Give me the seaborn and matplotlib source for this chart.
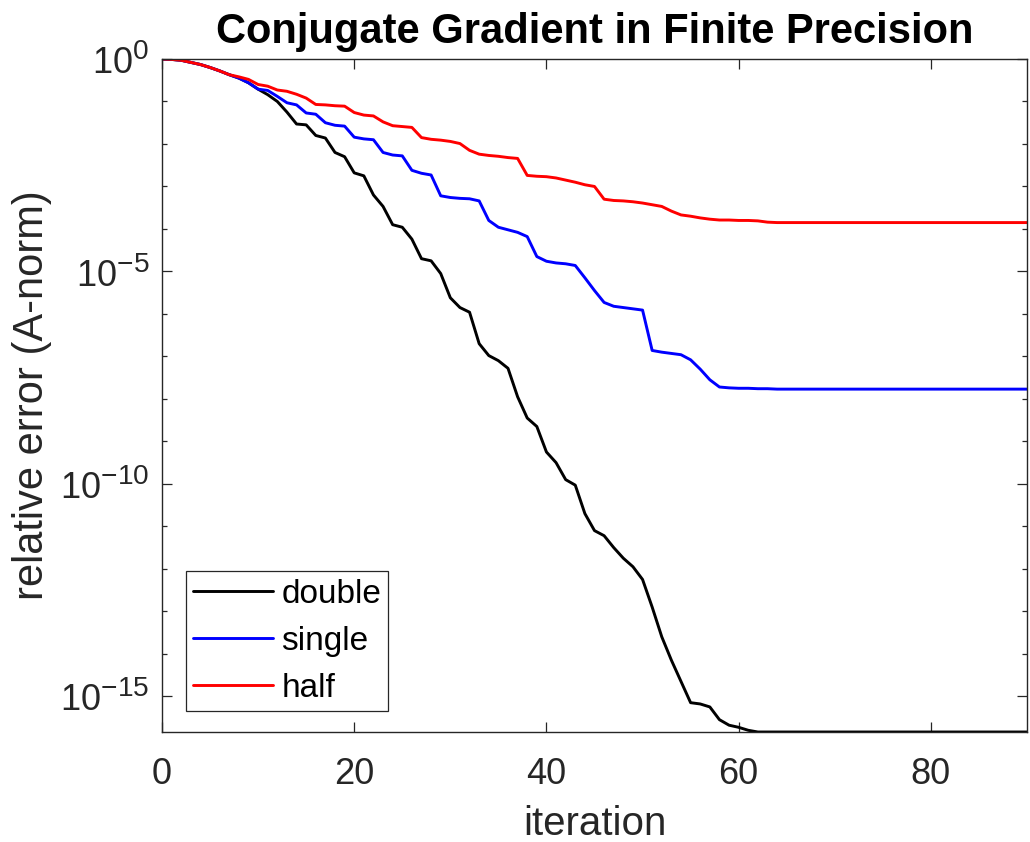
import matplotlib
matplotlib.use("Agg")
import matplotlib.pyplot as plt
import matplotlib.ticker as mticker
import numpy as np
import pandas as pd
import seaborn as sns

# log10 of the relative A-norm error, one value per iteration
iterations = list(range(91))

double_exp = [
    0.00, -0.01, -0.03, -0.08, -0.13, -0.20, -0.28, -0.37, -0.45, -0.56,
    -0.71, -0.84, -1.00, -1.25, -1.53, -1.55, -1.80, -1.86, -2.20, -2.30,
    -2.68, -2.75, -3.20, -3.47, -3.90, -3.96, -4.24, -4.70, -4.75, -5.05,
    -5.62, -5.85, -5.96, -6.70, -6.98, -7.10, -7.28, -7.95, -8.45, -8.65,
    -9.25, -9.50, -9.90, -10.03, -10.70, -11.10, -11.22, -11.50, -11.75, -11.95,
    -12.25, -12.90, -13.60, -14.15, -14.65, -15.15, -15.18, -15.25, -15.55, -15.68,
    -15.73, -15.80, -15.84, -15.84, -15.84, -15.84, -15.84, -15.84, -15.84, -15.84,
    -15.84, -15.84, -15.84, -15.84, -15.84, -15.84, -15.84, -15.84, -15.84, -15.84,
    -15.84, -15.84, -15.84, -15.84, -15.84, -15.84, -15.84, -15.84, -15.84, -15.84,
    -15.84,
]

single_exp = [
    0.00, -0.01, -0.03, -0.08, -0.13, -0.20, -0.28, -0.37, -0.45, -0.56,
    -0.71, -0.74, -0.88, -1.03, -1.08, -1.27, -1.30, -1.50, -1.56, -1.58,
    -1.84, -1.88, -1.90, -2.20, -2.26, -2.28, -2.62, -2.69, -2.73, -3.22,
    -3.26, -3.28, -3.29, -3.34, -3.80, -3.96, -4.02, -4.08, -4.18, -4.65,
    -4.76, -4.80, -4.82, -4.86, -5.15, -5.45, -5.73, -5.82, -5.85, -5.88,
    -5.91, -6.86, -6.90, -6.93, -6.96, -7.08, -7.30, -7.55, -7.72, -7.74,
    -7.75, -7.75, -7.76, -7.76, -7.77, -7.77, -7.77, -7.77, -7.77, -7.77,
    -7.77, -7.77, -7.77, -7.77, -7.77, -7.77, -7.77, -7.77, -7.77, -7.77,
    -7.77, -7.77, -7.77, -7.77, -7.77, -7.77, -7.77, -7.77, -7.77, -7.77,
    -7.77,
]

half_exp = [
    0.00, -0.01, -0.03, -0.08, -0.13, -0.20, -0.28, -0.37, -0.42, -0.48,
    -0.60, -0.64, -0.73, -0.76, -0.83, -0.92, -1.07, -1.08, -1.10, -1.11,
    -1.26, -1.32, -1.34, -1.48, -1.57, -1.59, -1.61, -1.85, -1.89, -1.91,
    -1.94, -1.99, -2.15, -2.24, -2.27, -2.29, -2.32, -2.34, -2.74, -2.76,
    -2.77, -2.80, -2.85, -2.90, -2.96, -3.00, -3.30, -3.33, -3.34, -3.36,
    -3.39, -3.43, -3.47, -3.58, -3.67, -3.70, -3.74, -3.77, -3.79, -3.79,
    -3.80, -3.80, -3.81, -3.84, -3.85, -3.85, -3.85, -3.85, -3.85, -3.85,
    -3.85, -3.85, -3.85, -3.85, -3.85, -3.85, -3.85, -3.85, -3.85, -3.85,
    -3.85, -3.85, -3.85, -3.85, -3.85, -3.85, -3.85, -3.85, -3.85, -3.85,
    -3.85,
]

precisions = ["double", "single", "half"]
line_colors = {"double": "#000000", "single": "#0000ff", "half": "#ff0000"}
x_ticks = [0, 20, 40, 60, 80]
labeled_decades = [0, -5, -10, -15]

rows = []
for name, exps in zip(precisions, [double_exp, single_exp, half_exp]):
    for it, e in zip(iterations, exps):
        rows.append({"iteration": it, "error": 10.0 ** e, "precision": name})
df = pd.DataFrame(rows)

sns.set_theme(style="ticks")
plt.rcParams["font.family"] = ["Liberation Sans", "DejaVu Sans"]
plt.rcParams["mathtext.default"] = "regular"
# bigger exponents, closer to the MATLAB look
try:
    import matplotlib._mathtext as _mt
    _mt.SHRINK_FACTOR = 0.78
except Exception:
    pass
axis_grey = "#262626"

fig = plt.figure(figsize=(10.3, 8.42), dpi=100)
ax = fig.add_axes([162 / 1030, 1 - 732 / 842, 865 / 1030, 673 / 842])

sns.lineplot(data=df, x="iteration", y="error", hue="precision",
             hue_order=precisions, palette=line_colors, linewidth=2.1,
             estimator=None, errorbar=None, ax=ax)

ax.set_yscale("log")
ax.set_xlim(0, 90)
ax.set_ylim(df["error"].min(), 1)

ax.set_xticks(x_ticks)
ax.yaxis.set_major_locator(mticker.FixedLocator([10.0 ** k for k in labeled_decades]))
ax.yaxis.set_minor_locator(mticker.FixedLocator([10.0 ** -k for k in range(16) if k % 5]))
ax.yaxis.set_major_formatter(mticker.FuncFormatter(
    lambda v, p: r"$10^{%d}$" % int(round(np.log10(v)))))
ax.yaxis.set_minor_formatter(mticker.NullFormatter())
ax.xaxis.set_minor_locator(mticker.NullLocator())

ax.tick_params(which="both", direction="in", top=True, right=True,
               color=axis_grey, labelcolor=axis_grey, width=0.9)
ax.tick_params(which="major", length=7, labelsize=26)
ax.tick_params(which="minor", length=3.5)
ax.tick_params(axis="x", pad=18)
ax.tick_params(axis="y", pad=9)
for side in ax.spines.values():
    side.set_visible(True)
    side.set_color(axis_grey)
    side.set_linewidth(1.0)

ax.set_xlabel("iteration", fontsize=29, color=axis_grey)
ax.set_ylabel("relative error (A-norm)", fontsize=30, color=axis_grey)
ax.xaxis.set_label_coords(0.5, -0.109)
ax.yaxis.set_label_coords(-0.127, 0.5)
ax.set_title("Conjugate Gradient in Finite Precision", fontsize=30,
             fontweight="bold", color="black", pad=11.5)

old = ax.get_legend()
handles = old.legend_handles
labels = [t.get_text() for t in old.get_texts()]
leg = ax.legend(handles, labels, loc="lower left", bbox_to_anchor=(0.0272, 0.0312),
                borderaxespad=0, fontsize=24, handlelength=2.4, handletextpad=0.25,
                borderpad=0.22, labelspacing=0.48, frameon=True, fancybox=False,
                framealpha=1, edgecolor=axis_grey)
leg.get_frame().set_linewidth(0.9)
for t in leg.get_texts():
    t.set_color("black")

fig.savefig("out.png", dpi=100)
